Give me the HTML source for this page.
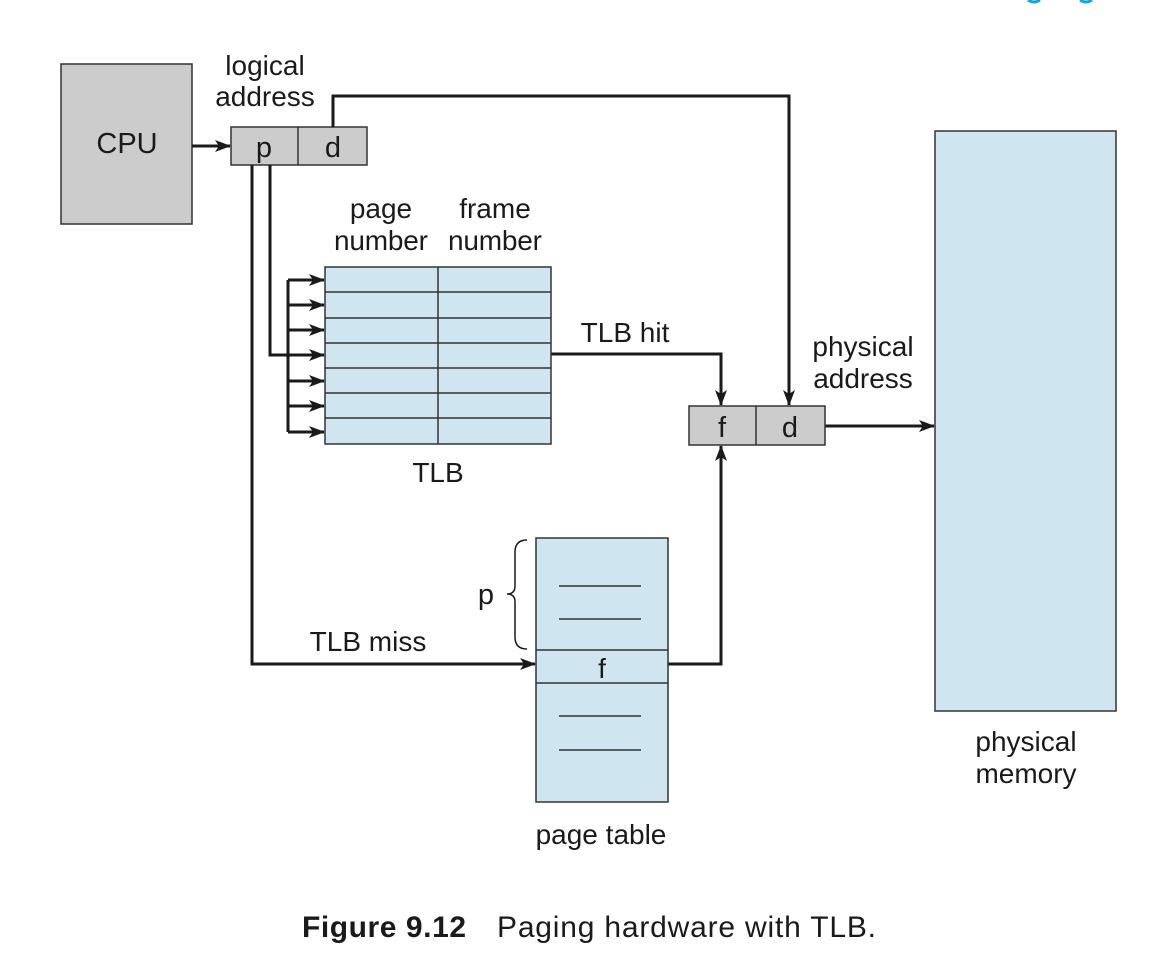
<!DOCTYPE html>
<html><head><meta charset="utf-8"><style>
html,body{margin:0;padding:0;background:#fff;}
svg{display:block;}
text{font-family:"Liberation Sans",Arial,sans-serif;fill:#1a1a1a;}
</style></head><body>
<svg width="1158" height="966" viewBox="0 0 1158 966" xmlns="http://www.w3.org/2000/svg">
<defs>
<marker id="a" markerWidth="16" markerHeight="12" refX="15" refY="6" orient="auto" markerUnits="userSpaceOnUse">
<path d="M0,0 L16,6 L0,12 L4,6 Z" fill="#1a1a1a"/>
</marker>
</defs>
<path d="M1028,0 Q1034,4 1040,0" stroke="#1aa3dd" stroke-width="3" fill="none"/>
<path d="M1080,0 Q1086,4 1092,0" stroke="#1aa3dd" stroke-width="3" fill="none"/>

<rect x="61" y="64" width="131" height="160" fill="#cccccc" stroke="#333" stroke-width="1.5"/>
<text x="127" y="153" font-size="29" text-anchor="middle">CPU</text>

<text x="265" y="75" font-size="28" text-anchor="middle">logical</text>
<text x="265" y="106" font-size="28" text-anchor="middle">address</text>

<rect x="231" y="127" width="136" height="38" fill="#cccccc" stroke="#333" stroke-width="1.5"/>
<line x1="298" y1="127" x2="298" y2="165" stroke="#333" stroke-width="1.5"/>
<text x="264" y="157" font-size="29" text-anchor="middle">p</text>
<text x="333" y="157" font-size="29" text-anchor="middle">d</text>

<g stroke="#1a1a1a" stroke-width="3" fill="none">
<line x1="192" y1="146" x2="230" y2="146" marker-end="url(#a)"/>
<polyline points="333,127 333,96 789,96 789,405" marker-end="url(#a)"/>
<polyline points="252,165 252,664 535,664" marker-end="url(#a)"/>
<polyline points="270,165 270,355 324,355" marker-end="url(#a)"/>
<line x1="288" y1="280" x2="288" y2="432"/>
<line x1="288" y1="280" x2="324" y2="280" marker-end="url(#a)"/>
<line x1="288" y1="305" x2="324" y2="305" marker-end="url(#a)"/>
<line x1="288" y1="330" x2="324" y2="330" marker-end="url(#a)"/>
<line x1="288" y1="381" x2="324" y2="381" marker-end="url(#a)"/>
<line x1="288" y1="406" x2="324" y2="406" marker-end="url(#a)"/>
<line x1="288" y1="432" x2="324" y2="432" marker-end="url(#a)"/>
<polyline points="551,354 721,354 721,405" marker-end="url(#a)"/>
<polyline points="668,664 721,664 721,446" marker-end="url(#a)"/>
<line x1="825" y1="426" x2="934" y2="426" marker-end="url(#a)"/>
</g>

<text x="381" y="218" font-size="28" text-anchor="middle">page</text>
<text x="381" y="250" font-size="28" text-anchor="middle" textLength="94">number</text>
<text x="495" y="218" font-size="28" text-anchor="middle">frame</text>
<text x="495" y="250" font-size="28" text-anchor="middle" textLength="94">number</text>
<rect x="325" y="267" width="226" height="177" fill="#cfe5ef" stroke="#333" stroke-width="1.5"/>
<g stroke="#333" stroke-width="1.5">
<line x1="438" y1="267" x2="438" y2="444"/>
<line x1="325" y1="292" x2="551" y2="292"/>
<line x1="325" y1="318" x2="551" y2="318"/>
<line x1="325" y1="343" x2="551" y2="343"/>
<line x1="325" y1="368" x2="551" y2="368"/>
<line x1="325" y1="393" x2="551" y2="393"/>
<line x1="325" y1="418" x2="551" y2="418"/>
</g>
<text x="438" y="482" font-size="28" text-anchor="middle">TLB</text>
<text x="625" y="342" font-size="28" text-anchor="middle">TLB hit</text>

<text x="863" y="356" font-size="28" text-anchor="middle">physical</text>
<text x="863" y="388" font-size="28" text-anchor="middle">address</text>
<rect x="689" y="406" width="136" height="39" fill="#cccccc" stroke="#333" stroke-width="1.5"/>
<line x1="756" y1="406" x2="756" y2="445" stroke="#333" stroke-width="1.5"/>
<text x="722" y="437" font-size="29" text-anchor="middle">f</text>
<text x="790" y="437" font-size="29" text-anchor="middle">d</text>

<rect x="935" y="131" width="181" height="580" fill="#cfe5ef" stroke="#333" stroke-width="1.5"/>
<text x="1026" y="751" font-size="28" text-anchor="middle">physical</text>
<text x="1026" y="783" font-size="28" text-anchor="middle">memory</text>

<rect x="536" y="538" width="132" height="264" fill="#cfe5ef" stroke="#333" stroke-width="1.5"/>
<line x1="536" y1="650" x2="668" y2="650" stroke="#333" stroke-width="1.5"/>
<line x1="536" y1="683" x2="668" y2="683" stroke="#333" stroke-width="1.5"/>
<g stroke="#333" stroke-width="1.5">
<line x1="559" y1="586" x2="641" y2="586"/>
<line x1="559" y1="619" x2="641" y2="619"/>
<line x1="559" y1="716" x2="641" y2="716"/>
<line x1="559" y1="750" x2="641" y2="750"/>
</g>
<text x="602" y="678" font-size="28" text-anchor="middle">f</text>
<text x="601" y="844" font-size="28" text-anchor="middle">page table</text>
<path d="M527,540 Q515,540 515,552 L515,586 Q515,594 507,594 Q515,594 515,602 L515,637 Q515,649 527,649" stroke="#1a1a1a" stroke-width="1.5" fill="none"/>
<text x="486" y="604" font-size="29" text-anchor="middle">p</text>
<text x="368" y="651" font-size="28" text-anchor="middle">TLB miss</text>

<text x="302" y="937" font-size="30" font-weight="bold" textLength="164">Figure 9.12</text>
<text x="497" y="937" font-size="30" textLength="379">Paging hardware with TLB.</text>
</svg>
</body></html>
